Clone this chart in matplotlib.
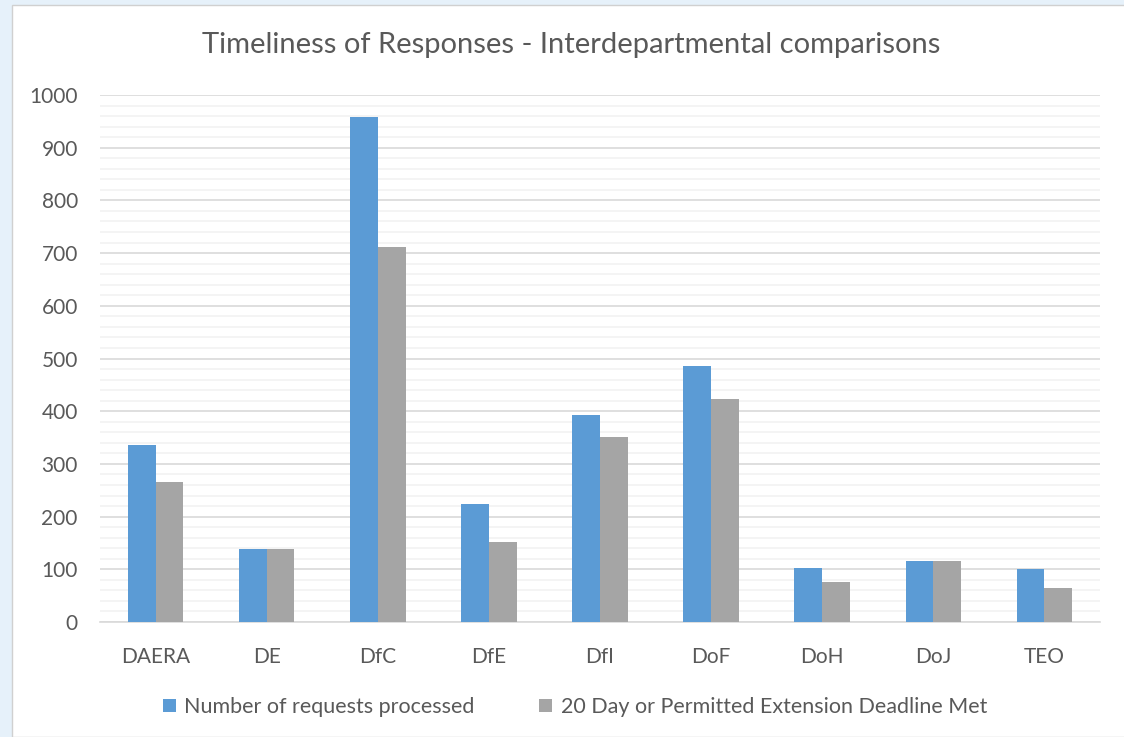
import matplotlib.pyplot as plt
import matplotlib.patches as mpatches
import numpy as np

departments = ["DAERA", "DE", "DfC", "DfE", "DfI", "DoF", "DoH", "DoJ", "TEO"]
processed = [336, 139, 958, 224, 393, 486, 102, 116, 100]
deadline_met = [266, 139, 712, 152, 351, 423, 76, 116, 64]

blue = "#5b9bd5"
grey = "#a5a5a5"
text_col = "#595959"

plt.rcParams['font.family'] = ['Lato', 'DejaVu Sans']

fig = plt.figure(figsize=(11.24, 7.37), dpi=100)
fig.patch.set_facecolor("#e6f1fa")
# white chart card behind everything
card = mpatches.Rectangle((12 / 1124, 0), 1.0, 1 - 5 / 737, transform=fig.transFigure,
                          facecolor="white", edgecolor="#d0d0d0", linewidth=1, zorder=-5)
fig.patches.append(card)

ax = fig.add_axes([100 / 1124, 1 - 622 / 737, 1000 / 1124, 527 / 737])
ax.set_zorder(2)
ax.set_facecolor("none")

x = np.arange(len(departments))
w = 0.25
ax.bar(x - w / 2, processed, w, color=blue, label="Number of requests processed", zorder=3)
ax.bar(x + w / 2, deadline_met, w, color=grey, label="20 Day or Permitted Extension Deadline Met", zorder=3)

ax.set_xlim(-0.5, len(departments) - 0.5)
ax.set_ylim(0, 1000)
ax.set_yticks(np.arange(0, 1001, 100))
ax.set_yticks(np.arange(0, 1001, 20), minor=True)
ax.grid(axis="y", which="major", color="#d9d9d9", linewidth=1.2, zorder=0)
ax.grid(axis="y", which="minor", color="#f2f2f2", linewidth=1.2, zorder=0)
ax.set_axisbelow(True)
ax.set_xticks(x)
ax.set_xticklabels(departments)
ax.tick_params(axis="both", which="both", length=0, labelsize=15, colors=text_col)
ax.tick_params(axis="x", pad=18)
ax.tick_params(axis="y", pad=16)
for s in ["top", "right", "left"]:
    ax.spines[s].set_visible(False)
ax.spines["bottom"].set_color("#d9d9d9")
ax.spines["bottom"].set_linewidth(1.2)

fig.text(571 / 1124, 1 - 45 / 737, "Timeliness of Responses - Interdepartmental comparisons",
         ha="center", va="center", fontsize=21, color=text_col)

fig.legend(loc="center", bbox_to_anchor=(575 / 1124, 1 - 707 / 737), ncol=2, frameon=False,
           fontsize=15.5, labelcolor=text_col, handlelength=0.6, handleheight=0.6,
           handletextpad=0.4, columnspacing=3)

fig.savefig("out.png", dpi=100)
